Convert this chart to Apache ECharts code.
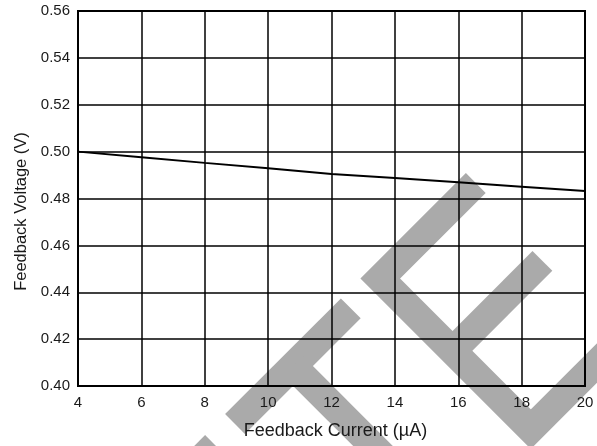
<!DOCTYPE html>
<html>
<head>
<meta charset="utf-8">
<script src="https://cdn.jsdelivr.net/npm/echarts@6/dist/echarts.min.js"></script>
<style>
  html, body { margin: 0; padding: 0; background: #fff; }
  #chart { width: 597px; height: 446px; }
</style>
</head>
<body>
<div id="chart"></div>
<script>
// Data
var feedbackCurrent = [4, 6, 8, 10, 12, 14, 16, 18, 20];          // µA
var feedbackVoltage = [0.5000, 0.4976, 0.4952, 0.4929, 0.4905, 0.4887, 0.4869, 0.4850, 0.4832]; // V
var xTitle = 'Feedback Current (\u00b5A)';
var yTitle = 'Feedback Voltage (V)';

var FONT = "'Liberation Sans', Arial, sans-serif";
var WM = '#aaaaaa';

function stripe(points) {
  return {
    type: 'polyline',
    silent: true,
    z: -100,
    shape: { points: points },
    style: { stroke: WM, lineWidth: 28, fill: null, lineJoin: 'miter', lineCap: 'butt', miterLimit: 10 }
  };
}

var chart = echarts.init(document.getElementById('chart'), null, { renderer: 'canvas' });
chart.setOption({
  backgroundColor: '#ffffff',
  animation: false,
  graphic: {
    elements: [
      stripe([[475.8, 183], [380.2, 278.5], [530.8, 429.2], [640, 320]]),
      stripe([[452.5, 350.8], [542.4, 260.9]]),
      stripe([[350.8, 308.3], [235, 424]]),
      stripe([[293, 366], [400, 473]]),
      stripe([[215, 445], [150, 510]])
    ]
  },
  grid: {
    left: 78, right: 12, top: 11, bottom: 60,
    show: true, borderColor: '#000', borderWidth: 2, backgroundColor: 'transparent'
  },
  xAxis: {
    type: 'value',
    min: 4, max: 20, interval: 2,
    name: xTitle,
    nameLocation: 'middle',
    nameGap: 36,
    nameTextStyle: { fontFamily: FONT, fontSize: 18, color: '#1a1a1a', padding: [0, 0, 0, 8] },
    axisLine: { show: true, lineStyle: { color: '#000', width: 2 } },
    axisTick: { show: false },
    axisLabel: { fontFamily: FONT, fontSize: 15, color: '#1a1a1a', margin: 9 },
    splitLine: { show: true, lineStyle: { color: '#000', width: 1.5 } }
  },
  yAxis: {
    type: 'value',
    min: 0.40, max: 0.56, interval: 0.02,
    name: yTitle,
    nameLocation: 'middle',
    nameGap: 47,
    nameTextStyle: { fontFamily: FONT, fontSize: 16.5, color: '#1a1a1a', padding: [0, 26, 0, 0] },
    axisLine: { show: true, lineStyle: { color: '#000', width: 2 } },
    axisTick: { show: false },
    axisLabel: {
      fontFamily: FONT, fontSize: 15, color: '#1a1a1a', margin: 8,
      formatter: function (v) { return v.toFixed(2); }
    },
    splitLine: { show: true, lineStyle: { color: '#000', width: 1.5 } }
  },
  series: [{
    type: 'line',
    data: feedbackCurrent.map(function (x, i) { return [x, feedbackVoltage[i]]; }),
    symbol: 'none',
    smooth: false,
    lineStyle: { color: '#000', width: 2 },
    z: 5
  }]
});
</script>
</body>
</html>
